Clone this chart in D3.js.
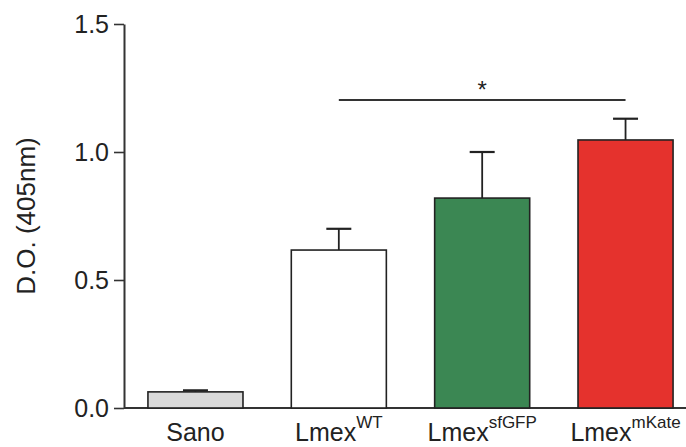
<!DOCTYPE html>
<html>
<head>
<meta charset="UTF-8">
<script src="https://d3js.org/d3.v7.min.js"></script>
<style>
  body { margin: 0; background: #fff; font-family: Arial, "Liberation Sans", sans-serif; }
  svg text { fill: #222; }
</style>
</head>
<body>
<div id="chart"></div>
<script>
// data
const groups = ["Sano", "WT", "sfGFP", "mKate"];
const baseLabels = ["Sano", "Lmex", "Lmex", "Lmex"];
const supLabels = ["", "WT", "sfGFP", "mKate"];
const means = [0.063, 0.617, 0.82, 1.047];
const errors = [0.006, 0.083, 0.18, 0.083];
const fills = ["#d9d9d9", "#ffffff", "#3b8753", "#e5322d"];
const yTicks = [0, 0.5, 1.0, 1.5];
const sigPair = ["WT", "mKate"];

const W = 686, H = 447;
const svg = d3.select("#chart").append("svg")
    .attr("width", W).attr("height", H);

const y = d3.scaleLinear().domain([0, 1.5]).range([408, 24]);
const x = d3.scaleBand().domain(groups)
    .range([124, 697])
    .paddingInner(0.337)
    .paddingOuter(0.167);

// y axis
const yAxis = svg.append("g")
    .attr("transform", "translate(124,0)")
    .call(d3.axisLeft(y).tickValues(yTicks).tickFormat(d3.format(".1f"))
        .tickSize(10).tickSizeOuter(0).tickPadding(5));
yAxis.select(".domain").attr("stroke", "#333").attr("stroke-width", 2);
yAxis.selectAll(".tick line").attr("stroke", "#333").attr("stroke-width", 1.6);
yAxis.selectAll(".tick text")
    .style("font-size", "25px").style("font-family", "Arial, 'Liberation Sans', sans-serif")
    .attr("fill", "#222");

// x axis line
svg.append("line")
    .attr("x1", 124).attr("x2", W)
    .attr("y1", y(0)).attr("y2", y(0))
    .attr("stroke", "#333").attr("stroke-width", 2);

// y label
svg.append("text")
    .attr("transform", `translate(35,${(y(0) + y(1.5)) / 2}) rotate(-90)`)
    .attr("text-anchor", "middle")
    .style("font-size", "26px")
    .text("D.O. (405nm)");

// error bars (upper only)
groups.forEach((g, i) => {
    const cx = x(g) + x.bandwidth() / 2;
    svg.append("line")
        .attr("x1", cx).attr("x2", cx)
        .attr("y1", y(means[i])).attr("y2", y(means[i] + errors[i]))
        .attr("stroke", "#222").attr("stroke-width", 1.8);
    svg.append("line")
        .attr("x1", cx - 12.5).attr("x2", cx + 12.5)
        .attr("y1", y(means[i] + errors[i])).attr("y2", y(means[i] + errors[i]))
        .attr("stroke", "#222").attr("stroke-width", 2.2);
});

// bars
svg.selectAll(".bar")
    .data(groups)
    .join("rect")
    .attr("class", "bar")
    .attr("x", d => x(d))
    .attr("width", x.bandwidth())
    .attr("y", (d, i) => y(means[i]))
    .attr("height", (d, i) => y(0) - y(means[i]))
    .attr("fill", (d, i) => fills[i])
    .attr("stroke", "#222")
    .attr("stroke-width", 1.6);

// category labels with superscripts
groups.forEach((g, i) => {
    const t = svg.append("text")
        .attr("x", x(g) + x.bandwidth() / 2)
        .attr("y", 441)
        .attr("text-anchor", "middle")
        .style("font-size", "25px");
    t.append("tspan").text(baseLabels[i]);
    if (supLabels[i]) {
        t.append("tspan")
            .attr("dy", -13)
            .style("font-size", "17px")
            .text(supLabels[i]);
    }
});

// significance bracket
const sx1 = x(sigPair[0]) + x.bandwidth() / 2;
const sx2 = x(sigPair[1]) + x.bandwidth() / 2;
svg.append("line")
    .attr("x1", sx1).attr("x2", sx2)
    .attr("y1", 100).attr("y2", 100)
    .attr("stroke", "#333").attr("stroke-width", 2);
svg.append("text")
    .attr("x", (sx1 + sx2) / 2)
    .attr("y", 98)
    .attr("text-anchor", "middle")
    .style("font-size", "24px")
    .text("*");
</script>
</body>
</html>
